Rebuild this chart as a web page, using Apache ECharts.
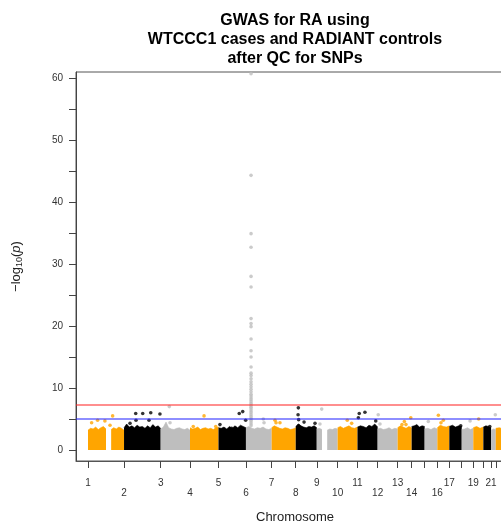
<!DOCTYPE html>
<html>
<head>
<meta charset="utf-8">
<script src="https://cdn.jsdelivr.net/npm/echarts@6/dist/echarts.min.js"></script>
<style>
html,body{margin:0;padding:0;background:#ffffff;}
#chart{width:501px;height:525px;}
</style>
</head>
<body>
<div id="chart"></div>
<script>
// ---------------- data ----------------
const chromosomes = ['1','2','3','4','5','6','7','8','9','10','11','12','13','14','15','16','17','18','19','20','21','22'];
const chrStart = [0,247,498,699,894,1082,1258,1423,1567,1710,1846,1984,2121,2217,2306,2393,2475,2560,2639,2708,2761,2793];
const genomeEnd = 2843;
// chromosome labels that are printed (R drops the overlapping ones)
const shownLabels = ['1','2','3','4','5','6','7','8','9','10','11','12','13','14','16','17','19','21'];
// upper edge of the dense SNP cloud along each chromosome (-log10 p), null = no SNPs (centromere)
const cloudTop = [
  [3.2,3.5,3.4,3.7,3.3,3.6,3.8,3.4,null,3.3,3.6,3.4,3.7,3.5,3.2],
  [3.6,4.2,3.7,3.9,3.6,4.0,3.7,3.8,3.5,3.9,3.6,4.1,3.7,3.9,3.5],
  [3.4,3.7,4.5,3.6,3.4,3.3,3.5,3.6,3.4,3.3,3.5,3.2],
  [3.6,3.4,3.5,3.7,3.3,3.5,3.6,3.4,3.5,3.3,3.6,3.7],
  [3.6,3.5,3.7,3.4,3.8,3.5,3.9,3.6,4.0,3.8,3.6],
  [3.6,3.8,3.5,3.4,3.6,3.5,3.7,3.4,3.3,3.5],
  [3.6,3.9,3.7,3.5,3.4,3.6,3.5,3.3,3.4,3.6],
  [3.8,4.2,3.9,3.7,3.6,3.8,3.7,3.9,3.6],
  [3.4,3.5,3.3,null,3.2,3.4,3.3,3.5,3.4],
  [3.6,3.8,3.5,3.7,3.9,3.6,3.5,3.7],
  [3.7,3.9,3.8,3.6,4.0,3.8,4.2,3.7],
  [3.4,3.5,3.3,3.4,3.6,3.3,3.5,3.4],
  [3.6,3.9,3.7,3.5,3.8,3.6],
  [3.8,3.9,4.1,3.7,3.9,3.8],
  [3.4,3.5,3.3,3.6,3.4],
  [3.6,4.0,3.8,3.7,3.9],
  [3.8,4.0,3.7,3.9,3.8],
  [3.3,3.4,3.6,3.3,3.5],
  [3.6,3.8,3.5,3.7],
  [3.7,3.9,3.8,3.6],
  [3.2,3.4,3.3],
  [3.5,3.6,3.4]
];
// individual SNPs standing above the cloud: [cumulative position (Mb), -log10 p]
const topSnps = [
  [25,4.4],[66,4.8],[116,4.7],[151,4.0],[169,5.5],
  [269,3.6],[288,4.3],[327,5.9],[329,4.8],[375,5.9],[418,4.8],[430,6.0],[493,5.8],
  [557,7.0],[562,4.4],
  [721,3.8],[795,5.5],[875,3.8],
  [904,4.1],[984,3.5],[1036,5.9],[1060,6.2],[1080,4.8],
  [1201,5.0],[1206,4.4],
  [1281,4.8],[1288,4.4],[1315,4.4],
  [1441,6.8],[1439,5.7],[1443,4.9],[1443,3.9],[1480,4.5],[1555,4.3],
  [1601,6.6],[1589,4.2],
  [1776,4.8],[1806,4.3],
  [1858,5.9],[1897,6.1],[1852,5.2],[1971,4.7],
  [1988,5.7],[2000,4.2],
  [2167,4.6],[2151,4.1],[2178,4.1],[2211,5.2],
  [2331,4.6],
  [2400,5.6],[2434,4.8],[2418,4.4],
  [2553,3.9],
  [2617,4.7],
  [2676,5.0],
  [2752,3.8],
  [2790,5.7]
];
// HLA region peak on chromosome 6
const hlaPos = 1117;
const hlaValues = [60.7,44.3,34.9,32.7,28.0,26.3,21.2,20.4,19.9,17.9,16.0,15.0,13.4,12.4,12.0,11.5,11.0,10.6,10.2,9.8,9.4,9.0,8.7,8.4,8.1,7.8,7.5,7.2,6.9,6.6,6.3,6.0,5.7,5.4,5.1,4.8,4.5,4.2,3.9];
const genomeWideLine = 7.3;
const suggestiveLine = 5;
const yTickValues = [0,5,10,15,20,25,30,35,40,45,50,55,60];
const yLabelValues = [0,10,20,30,40,50,60];

// ---------------- build ----------------
const chrColors = ['#FFA500','#000000','#BEBEBE'];
function chrIndexOf(x){
  let k = 0;
  for (let i=0;i<chrStart.length;i++){ if (x >= chrStart[i]) k = i; }
  return k;
}
const series = [];
cloudTop.forEach((arr, i) => {
  const s = chrStart[i];
  const e = i < chrStart.length-1 ? chrStart[i+1] : genomeEnd;
  const n = arr.length;
  let seg = [];
  const flush = () => {
    if (seg.length) {
      series.push({
        type:'line', data: seg, showSymbol:false, silent:true, z:2,
        lineStyle:{width:0.6,color:chrColors[i%3]},
        areaStyle:{color:chrColors[i%3],opacity:1},
        animation:false
      });
    }
    seg = [];
  };
  arr.forEach((h, j) => {
    const x = s + j*(e-s)/(n-1);
    if (h === null) flush(); else seg.push([x, h]);
  });
  flush();
});
series.push({
  type:'scatter', symbolSize:3.6, silent:true, z:3, animation:false,
  data: topSnps.map(p => ({value:p, itemStyle:{color:chrColors[chrIndexOf(p[0])%3]}}))
});
series.push({
  type:'scatter', symbolSize:3.6, silent:true, z:3, animation:false,
  itemStyle:{color:chrColors[chrIndexOf(hlaPos)%3]},
  data: hlaValues.map(v => [hlaPos, v])
});
series.push({
  type:'scatter', symbolSize:0, silent:true, z:6, animation:false,
  data:[[hlaPos, suggestiveLine]],
  markLine:{
    silent:true, symbol:['none','none'], label:{show:false}, animation:false,
    data:[
      {yAxis:genomeWideLine, lineStyle:{color:'rgba(255,40,40,0.7)',width:1.6,type:'solid'}},
      {yAxis:suggestiveLine, lineStyle:{color:'rgba(40,40,255,0.7)',width:1.6,type:'solid'}}
    ]
  }
});

const chart = echarts.init(document.getElementById('chart'), null, {renderer:'canvas'});
chart.setOption({
  animation:false,
  backgroundColor:'#ffffff',
  title:{
    text:'GWAS for RA using\nWTCCC1 cases and RADIANT controls\nafter QC for SNPs',
    left:295, top:11, textAlign:'center', padding:0,
    textStyle:{fontFamily:'Liberation Sans',fontSize:16,fontWeight:'bold',color:'#000',lineHeight:19}
  },
  grid:{left:76, top:72, width:438, height:389, show:true, borderColor:'#555', borderWidth:1, containLabel:false, outerBoundsMode:'none'},
  xAxis:{
    type:'value', min:-82, max:2918,
    splitLine:{show:false},
    axisLine:{show:true, onZero:false, lineStyle:{color:'#555',width:1}},
    axisTick:{show:true, inside:false, length:7, customValues:chrStart, lineStyle:{color:'#444'}},
    axisLabel:{
      show:true, customValues:chrStart, margin:17, hideOverlap:false,
      fontFamily:'Liberation Sans', fontSize:10, color:'#333', lineHeight:10,
      formatter:(v)=>{
        const i = chrStart.indexOf(v);
        if (i < 0) return '';
        const name = chromosomes[i];
        if (shownLabels.indexOf(name) < 0) return '';
        return (i % 2 === 1) ? '\n' + name : name;
      }
    },
    name:'Chromosome', nameLocation:'middle', nameGap:50,
    nameTextStyle:{fontFamily:'Liberation Sans',fontSize:13,color:'#222'}
  },
  yAxis:{
    type:'value', min:-1.77, max:60.97,
    splitLine:{show:false},
    axisLine:{show:true, onZero:false, lineStyle:{color:'#444',width:1}},
    axisTick:{show:true, inside:false, length:7, customValues:yTickValues, lineStyle:{color:'#444'}},
    axisLabel:{show:true, customValues:yLabelValues, margin:13, fontFamily:'Liberation Sans', fontSize:10, color:'#333'},
    name:'{a|−log}{b|10}{a|(}{c|p}{a|)}', nameLocation:'middle', nameGap:52, nameRotate:90,
    nameTextStyle:{
      fontFamily:'Liberation Sans', fontSize:13, color:'#222',
      rich:{
        a:{fontFamily:'Liberation Sans',fontSize:13,color:'#222',lineHeight:16},
        b:{fontFamily:'Liberation Sans',fontSize:9,color:'#222',lineHeight:16,verticalAlign:'bottom',padding:[6,0,0,0]},
        c:{fontFamily:'Liberation Sans',fontSize:13,fontStyle:'italic',color:'#222',lineHeight:16}
      }
    }
  },
  series: series
});
</script>
</body>
</html>
